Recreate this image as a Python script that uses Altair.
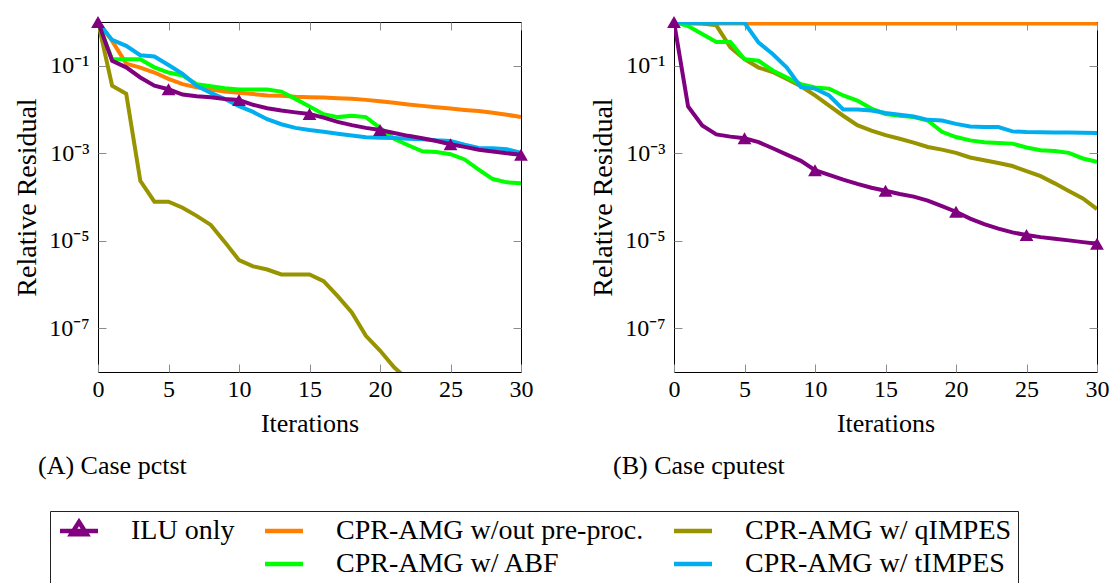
import altair as alt
import pandas as pd

ITERS = list(range(31))
NAMES = ["ILU only", "CPR-AMG w/out pre-proc.", "CPR-AMG w/ qIMPES", " ",
         "CPR-AMG w/ ABF", "CPR-AMG w/ tIMPES"]
COLORS = ["#800080", "#FF8000", "#979400", "#FFFFFF", "#00FF00", "#00AEEF"]
DRAW_ORDER = [NAMES[1], NAMES[2], NAMES[4], NAMES[5], NAMES[0]]
X_TICKS = [0, 5, 10, 15, 20, 25, 30]
Y_TICKS = [1e-7, 1e-5, 1e-3, 1e-1]
CAPTIONS = ["(A) Case pctst", "(B) Case cputest"]

# ---- Case pctst ----
a_ilu = [1.0, 0.13, 0.092, 0.054, 0.035, 0.029, 0.022, 0.020, 0.019, 0.0174, 0.0165,
         0.0128, 0.0107, 0.0095, 0.0086, 0.0079, 0.0065, 0.0052, 0.0044, 0.0038, 0.0034,
         0.0029, 0.0025, 0.0022, 0.0019, 0.0016, 0.0014, 0.0012, 0.0011, 0.0010, 0.00092]
a_noprep = [1.0, 0.37, 0.112, 0.091, 0.070, 0.050, 0.038, 0.032, 0.0285, 0.0257, 0.024,
            0.0225, 0.021, 0.0205, 0.0195, 0.019, 0.0187, 0.0181, 0.0175, 0.0166, 0.0155,
            0.0142, 0.0130, 0.0121, 0.0113, 0.0105, 0.0098, 0.0092, 0.0084, 0.0076, 0.0067]
a_qimpes = [1.0, 0.035, 0.023, 2.35e-4, 7.8e-5, 7.8e-5, 5.7e-5, 3.7e-5, 2.3e-5, 9.3e-6,
            3.6e-6, 2.6e-6, 2.2e-6, 1.7e-6, 1.7e-6, 1.7e-6, 1.19e-6, 5.4e-7, 2.3e-7,
            6.7e-8, 3.1e-8, 1.28e-8, 6.6e-9]
a_abf = [1.0, 0.141, 0.141, 0.141, 0.092, 0.070, 0.060, 0.038, 0.034, 0.0305, 0.0285,
         0.0285, 0.0285, 0.0257, 0.0175, 0.0117, 0.0078, 0.0067, 0.0072, 0.0067, 0.0038,
         0.00215, 0.00152, 0.00111, 0.00107, 0.00095, 0.00072, 0.000425, 0.000257,
         0.000216, 0.000205]
a_timpes = [1.0, 0.39, 0.285, 0.174, 0.163, 0.104, 0.065, 0.035, 0.024, 0.0174, 0.0119,
            0.0088, 0.006, 0.0046, 0.0038, 0.0034, 0.0031, 0.0028, 0.00256, 0.00231,
            0.00227, 0.00223, 0.00215, 0.00208, 0.00197, 0.00191, 0.00157, 0.00132,
            0.0013, 0.00123, 0.00102]

# ---- Case cputest ----
b_ilu = [1.0, 0.0117, 0.0043, 0.0027, 0.0024, 0.0022, 0.0018, 0.0013, 0.00093, 0.00067,
         0.00041, 0.00032, 0.00025, 0.0002, 0.000163, 0.000139, 0.000117, 0.000102,
         8.3e-5, 6.2e-5, 4.6e-5, 3.2e-5, 2.4e-5, 1.9e-5, 1.55e-5, 1.35e-5, 1.21e-5,
         1.11e-5, 1.02e-5, 9.3e-6, 8.5e-6]
b_noprep = [1.0, 0.92, 0.92, 0.92, 0.92, 0.92, 0.92, 0.92, 0.92, 0.92, 0.92, 0.92, 0.92,
            0.92, 0.92, 0.92, 0.92, 0.92, 0.92, 0.92, 0.92, 0.92, 0.92, 0.92, 0.92, 0.92,
            0.92, 0.92, 0.92, 0.92, 0.92]
b_qimpes = [1.0, 0.95, 0.92, 0.84, 0.263, 0.141, 0.091, 0.072, 0.050, 0.034, 0.021,
            0.0123, 0.0072, 0.0044, 0.0033, 0.0026, 0.00215, 0.00175, 0.00139, 0.00121,
            0.00102, 0.0008, 0.00069, 0.0006, 0.00051, 0.00039, 0.0003, 0.000205,
            0.000137, 9.3e-5, 5.3e-5]
b_abf = [1.0, 0.81, 0.53, 0.35, 0.35, 0.141, 0.13, 0.078, 0.054, 0.038, 0.032, 0.030,
         0.0209, 0.016, 0.0105, 0.0079, 0.0072, 0.0067, 0.0056, 0.0031, 0.00235, 0.00197,
         0.00178, 0.00172, 0.00166, 0.00135, 0.00117, 0.00113, 0.00102, 0.00076, 0.00064]
b_timpes = [1.0, 0.96, 0.96, 0.96, 0.96, 0.96, 0.339, 0.186, 0.091, 0.0324, 0.030, 0.0209,
            0.010, 0.010, 0.0095, 0.0083, 0.0076, 0.0069, 0.0058, 0.0056, 0.0047, 0.0041,
            0.00397, 0.00397, 0.00316, 0.00305, 0.00302, 0.003, 0.00297, 0.00295, 0.0029]

FONT = "Liberation Serif"
W, H = 423, 350
TICK = 8
# legend symbols: a 38px stroke drawn from a 20px symbol box (r = 10)
LINE_PATH = "M-1,0H2.8"
TRI_PATH = "M-1,0H2.8M0.12,0.33L0.9,-0.9L1.68,0.33Z"


def long_df(series):
    rows = []
    for name, vals in series.items():
        for it, v in zip(ITERS, vals):
            rows.append({"it": it, "res": v, "series": name})
    return pd.DataFrame(rows)


df_a = long_df({NAMES[0]: a_ilu, NAMES[1]: a_noprep, NAMES[2]: a_qimpes,
                NAMES[4]: a_abf, NAMES[5]: a_timpes})
df_b = long_df({NAMES[0]: b_ilu, NAMES[1]: b_noprep, NAMES[2]: b_qimpes,
                NAMES[4]: b_abf, NAMES[5]: b_timpes})

legend = alt.Legend(
    title=None, orient="none", legendX=-48, legendY=489,
    direction="horizontal", columns=3,
    symbolType={"expr": "datum.value === 'ILU only' ? '" + TRI_PATH + "' : '" + LINE_PATH + "'"},
    symbolSize=400, symbolStrokeWidth=4.5,
    labelFont=FONT, labelFontSize=28, labelColor="black", labelOffset=47,
    labelLimit=500, columnPadding=21, rowPadding=5, padding=6,
    strokeColor="#222222",
)

y_label_expr = ("datum.value < 5e-7 ? '10⁻⁷' : datum.value < 5e-5 ? '10⁻⁵' : "
                "datum.value < 5e-3 ? '10⁻³' : '10⁻¹'")


def panel(df, caption, dx):
    x = alt.X("it:Q", scale=alt.Scale(domain=[0, 30], nice=False, zero=False),
              axis=alt.Axis(title="Iterations", values=X_TICKS, format="d",
                            grid=True, gridDash=[TICK, H - 2 * TICK], gridColor="#8c8c8c",
                            gridWidth=1, ticks=False, tickSize=0, domain=False,
                            labelPadding=5, labelFontSize=24, titleFontSize=26,
                            titlePadding=9, labelFlush=False))
    y = alt.Y("res:Q", scale=alt.Scale(type="log", domain=[1e-8, 1], nice=False),
              axis=alt.Axis(title="Relative Residual", values=Y_TICKS, labelExpr=y_label_expr,
                            grid=True, gridDash=[TICK, W - 2 * TICK], gridColor="#8c8c8c",
                            gridWidth=1, ticks=False, tickSize=0, domain=False,
                            labelPadding=9, labelFontSize=24, titleFontSize=28,
                            titlePadding=7))
    color = alt.Color("series:N", scale=alt.Scale(domain=NAMES, range=COLORS), legend=legend)
    layers = []
    for s in DRAW_ORDER:
        layers.append(
            alt.Chart(df).transform_filter(alt.datum.series == s)
            .mark_line(strokeWidth=4, clip=True, strokeJoin="miter")
            .encode(x=x, y=y, color=color)
        )
    pts = (
        alt.Chart(df)
        .transform_filter("datum.series === 'ILU only' && datum.it % 5 === 0")
        .mark_point(shape="triangle-up", filled=True, size=190, opacity=1, color=COLORS[0])
        .encode(x=x, y=y)
    )
    layers.append(pts)
    return alt.layer(*layers).properties(
        width=W, height=H,
        title=alt.TitleParams(text=caption, orient="bottom", anchor="start", frame="group",
                              dx=dx, offset=17, font=FONT, fontSize=26,
                              fontWeight="normal", color="black"),
    )


chart = (
    alt.hconcat(panel(df_a, CAPTIONS[0], -60), panel(df_b, CAPTIONS[1], -61), spacing=55)
    .properties(padding={"left": 13, "top": 15, "right": 0, "bottom": 0})
    .configure_view(stroke="black", strokeWidth=1)
    .configure_axis(labelFont=FONT, titleFont=FONT, labelColor="black", titleColor="black",
                    titleFontWeight="normal")
)

chart.save("out.html", embed_options={"renderer": "svg", "actions": False})
